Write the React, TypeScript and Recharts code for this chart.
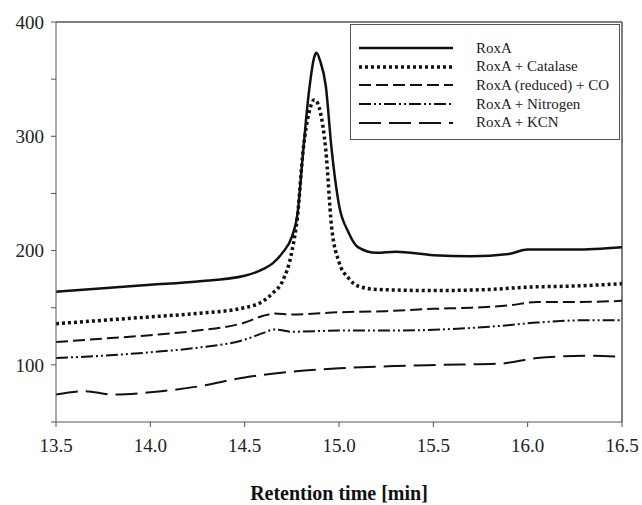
import React from "react"
import { LineChart, Line, XAxis, YAxis, Legend, ReferenceLine } from "recharts"

// retention time [min] and signal for each trace
const roxaTime = [13.5, 13.75, 14.0, 14.25, 14.5, 14.6, 14.65, 14.7, 14.75, 14.78, 14.81, 14.84, 14.87, 14.88, 14.9, 14.93, 14.96, 15.0, 15.05, 15.1, 15.2, 15.3, 15.5, 15.7, 15.9, 16.0, 16.25, 16.5]
const roxaSignal = [164, 167, 170, 173, 178, 184, 189, 198, 212, 232, 287, 338, 370, 373, 366, 344, 290, 240, 216, 203, 198, 199, 196, 195, 197, 201, 201, 203]

const catalaseTime = [13.5, 13.75, 14.0, 14.25, 14.5, 14.6, 14.65, 14.7, 14.75, 14.78, 14.81, 14.84, 14.87, 14.88, 14.9, 14.93, 14.96, 15.0, 15.05, 15.1, 15.2, 15.5, 15.8, 16.0, 16.25, 16.5]
const catalaseSignal = [136, 139, 142, 145, 150, 156, 163, 173, 199, 230, 288, 320, 332, 331, 322, 288, 222, 190, 176, 169, 166, 165, 166, 168, 169, 171]

const coTime = [13.5, 13.75, 14.0, 14.25, 14.5, 14.6, 14.66, 14.75, 15.0, 15.25, 15.5, 15.7, 15.9, 16.05, 16.25, 16.5]
const coSignal = [120, 123, 126, 130, 137, 143, 145, 144, 146, 147, 149, 150, 152, 155, 155, 156]

const nitrogenTime = [13.5, 13.75, 14.0, 14.25, 14.5, 14.6, 14.66, 14.75, 15.0, 15.3, 15.55, 15.85, 16.05, 16.3, 16.5]
const nitrogenSignal = [106, 108, 111, 115, 122, 128, 131, 129, 130, 130, 131, 134, 137, 139, 139]

const kcnTime = [13.5, 13.65, 13.8, 14.0, 14.25, 14.5, 14.75, 15.0, 15.3, 15.55, 15.85, 16.05, 16.33, 16.5]
const kcnSignal = [74, 77, 74, 76, 81, 89, 94, 97, 99, 100, 101, 106, 108, 107]

const xTicks = [13.5, 14.0, 14.5, 15.0, 15.5, 16.0, 16.5]
const yTicks = [50, 100, 150, 200, 250, 300, 350, 400]

const toPoints = (t: number[], v: number[]) => t.map((time, i) => ({ time, value: v[i] }))

const series = [
  { name: "RoxA", data: toPoints(roxaTime, roxaSignal), dash: undefined, width: 2.5 },
  { name: "RoxA + Catalase", data: toPoints(catalaseTime, catalaseSignal), dash: "3 3", width: 3.5 },
  { name: "RoxA (reduced) + CO", data: toPoints(coTime, coSignal), dash: "12 5", width: 2 },
  { name: "RoxA + Nitrogen", data: toPoints(nitrogenTime, nitrogenSignal), dash: "12 3 2 3 2 3", width: 2 },
  { name: "RoxA + KCN", data: toPoints(kcnTime, kcnSignal), dash: "22 8", width: 2 },
]

const font = "'Liberation Serif', 'Times New Roman', serif"
const axisColor = "#555"
const textColor = "#222"

const LegendBox = () => (
  <div
    style={{
      width: 270,
      height: 116,
      border: "1px solid #555",
      background: "#fff",
      boxSizing: "border-box",
      paddingTop: 14,
      fontFamily: font,
      fontSize: 15,
      color: textColor,
      lineHeight: 1,
    }}
  >
    {series.map((s) => (
      <div key={s.name} style={{ display: "flex", alignItems: "center", height: 18.6 }}>
        <svg width={125} height={10} style={{ flex: "none" }}>
          <line x1={8} x2={102} y1={5} y2={5} stroke="#111" strokeWidth={s.width} strokeDasharray={s.dash} />
        </svg>
        <span>{s.name}</span>
      </div>
    ))}
  </div>
)

export default function App() {
  return (
    <div style={{ position: "absolute", left: 0, top: 0, background: "#fff", fontFamily: font }}>
      <LineChart width={642} height={505} margin={{ top: 22, right: 20, left: 0, bottom: 0 }}>
        <XAxis
          dataKey="time"
          type="number"
          domain={[13.5, 16.5]}
          ticks={xTicks}
          interval={0}
          height={83}
          stroke={axisColor}
          tickSize={5}
          tickMargin={12}
          tickFormatter={(v: number) => v.toFixed(1)}
          tick={{ fill: textColor, fontSize: 19, fontFamily: font }}
          label={{
            value: "Retention time [min]",
            position: "insideBottom",
            offset: 5,
            style: { fill: "#111", fontSize: 20, fontWeight: "bold", fontFamily: font },
          }}
        />
        <YAxis
          type="number"
          domain={[50, 400]}
          ticks={yTicks}
          interval={0}
          width={56}
          stroke={axisColor}
          tickSize={5}
          tickMargin={7}
          tickFormatter={(v: number) => (v % 100 === 0 ? String(v) : "")}
          tick={{ fill: textColor, fontSize: 19, fontFamily: font }}
        />
        <ReferenceLine y={400} stroke={axisColor} strokeWidth={1.5} />
        <ReferenceLine x={16.5} stroke={axisColor} strokeWidth={1.5} />
        <Legend
          layout="vertical"
          align="center"
          verticalAlign="middle"
          content={() => <LegendBox />}
          wrapperStyle={{ left: 350, top: 24, width: 270 }}
        />
        {series.map((s) => (
          <Line
            key={s.name}
            data={s.data}
            dataKey="value"
            name={s.name}
            type="monotone"
            stroke="#111"
            strokeWidth={s.width}
            strokeDasharray={s.dash}
            dot={false}
            activeDot={false}
            isAnimationActive={false}
          />
        ))}
      </LineChart>
    </div>
  )
}
